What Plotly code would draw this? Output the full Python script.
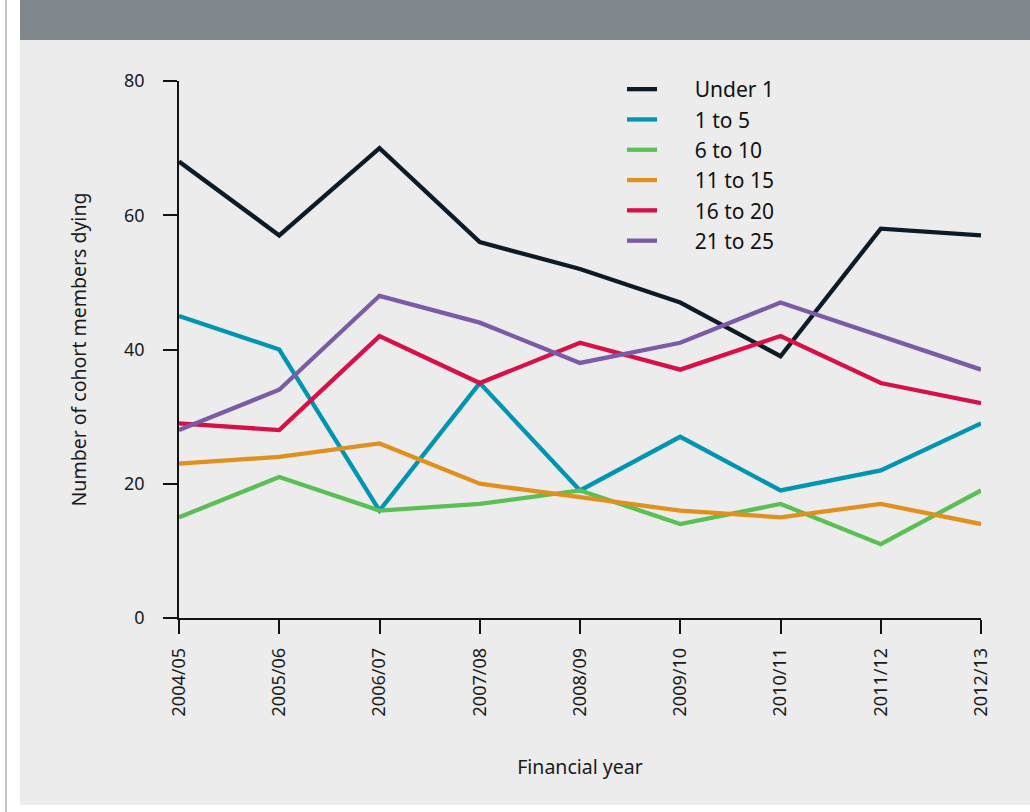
import plotly.graph_objects as go

years = ["2004/05", "2005/06", "2006/07", "2007/08", "2008/09",
         "2009/10", "2010/11", "2011/12", "2012/13"]

under_1 = [68, 57, 70, 56, 52, 47, 39, 58, 57]
age_1_5 = [45, 40, 16, 35, 19, 27, 19, 22, 29]
age_6_10 = [15, 21, 16, 17, 19, 14, 17, 11, 19]
age_11_15 = [23, 24, 26, 20, 18, 16, 15, 17, 14]
age_16_20 = [29, 28, 42, 35, 41, 37, 42, 35, 32]
age_21_25 = [28, 34, 48, 44, 38, 41, 47, 42, 37]

series = [
    ("Under 1", under_1, "#0d1b26"),
    ("1 to 5", age_1_5, "#0094b3"),
    ("6 to 10", age_6_10, "#5cbf55"),
    ("11 to 15", age_11_15, "#e0901e"),
    ("16 to 20", age_16_20, "#d8104a"),
    ("21 to 25", age_21_25, "#7b5aa6"),
]

W, H = 1030, 812
L, R, T, B = 179, 49, 81, 194
PW = W - L - R
PH = H - T - B


def px(x):
    return (x - L) / PW


def py(y):
    return (H - B - y) / PH


fig = go.Figure()
for name, vals, col in series:
    fig.add_trace(go.Scatter(x=years, y=vals, name="\u00a0" * 6 + name,
                             mode="lines", line=dict(color=col, width=4.3)))

font = "Noto Sans"
fig.update_layout(
    width=W, height=H, autosize=False,
    margin=dict(l=L, r=R, t=T, b=B),
    paper_bgcolor="white",
    plot_bgcolor="rgba(0,0,0,0)",
    font=dict(family=font, color="#1a1a1a", size=18),
    showlegend=True,
    legend=dict(x=px(622), y=py(69), xanchor="left", yanchor="top",
                bgcolor="rgba(0,0,0,0)", font=dict(size=21, color="#111111"),
                tracegroupgap=0, itemwidth=30),
    shapes=[
        dict(type="rect", xref="paper", yref="paper", layer="below",
             x0=px(20), x1=px(1030), y0=py(40), y1=py(805),
             fillcolor="#ebeceb", line=dict(width=0)),
        dict(type="rect", xref="paper", yref="paper", layer="below",
             x0=px(20), x1=px(1030), y0=py(0), y1=py(40),
             fillcolor="#7f868c", line=dict(width=0)),
        dict(type="line", xref="paper", yref="paper", layer="below",
             x0=px(6), x1=px(6), y0=py(0), y1=py(812),
             line=dict(color="#c4c4c4", width=2)),
    ],
)

fig.update_xaxes(
    type="category", range=[0, len(years) - 1],
    showline=True, linecolor="#111111", linewidth=1.5,
    ticks="outside", ticklen=14, tickcolor="#111111", tickwidth=1.5,
    tickangle=-90, showgrid=False, zeroline=False,
    tickfont=dict(size=18), ticklabelstandoff=7,
    title=dict(text="Financial year", font=dict(size=19.5), standoff=45),
)
fig.update_yaxes(
    range=[0, 80], dtick=20, tick0=0,
    showline=True, linecolor="#111111", linewidth=1.5,
    ticks="outside", ticklen=14, tickcolor="#111111", tickwidth=1.5,
    showgrid=False, zeroline=False,
    tickfont=dict(size=18), ticklabelstandoff=15,
    title=dict(text="Number of cohort members dying", font=dict(size=19.5), standoff=32),
)

fig.write_html("out.html", config={"displayModeBar": False},
               post_script="document.body.style.margin='0';document.body.style.padding='0';")
